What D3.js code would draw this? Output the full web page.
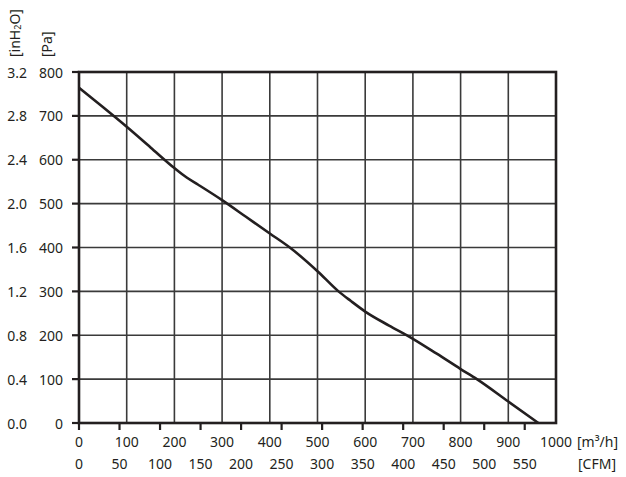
<!DOCTYPE html>
<html>
<head>
<meta charset="utf-8">
<script src="https://cdn.jsdelivr.net/npm/d3@7"></script>
<style>
  html, body { margin: 0; padding: 0; background: #fff; }
  text { font-family: "Noto Sans", "Open Sans", sans-serif; fill: #231f20; }
</style>
</head>
<body>
<svg id="chart" width="626" height="477"></svg>
<script>
// ---- Data ----
const flowM3h = [0, 50, 100, 150, 200, 225, 250, 300, 350, 400, 442, 500, 544, 570, 600, 650, 700, 750, 800, 834, 900, 963];
const pressurePa = [764, 720, 675, 628, 581, 560, 543, 508, 470, 432, 400, 346, 300, 278, 254, 222, 192, 158, 123, 100, 49, 0];

const m3hTicks = [0, 100, 200, 300, 400, 500, 600, 700, 800, 900, 1000];
const cfmTicks = [0, 50, 100, 150, 200, 250, 300, 350, 400, 450, 500, 550];
const paTicks = [0, 100, 200, 300, 400, 500, 600, 700, 800];
const inH2OLabels = ["0.0", "0.4", "0.8", "1.2", "1.6", "2.0", "2.4", "2.8", "3.2"];
const CFM_TO_M3H = 1.699;

// ---- Layout ----
const svg = d3.select("#chart");
const pL = 79, pR = 556, pT = 72, pB = 423;

const x = d3.scaleLinear().domain([0, 1000]).range([pL, pR]);
const y = d3.scaleLinear().domain([0, 800]).range([pB, pT]);

const ink = "#231f20";

// Grid
svg.append("g").selectAll("line").data(m3hTicks.slice(1, -1)).join("line")
  .attr("x1", d => x(d)).attr("x2", d => x(d))
  .attr("y1", pT).attr("y2", pB)
  .attr("stroke", "#3a3a3a").attr("stroke-width", 1.6);
svg.append("g").selectAll("line").data(paTicks.slice(1, -1)).join("line")
  .attr("x1", pL).attr("x2", pR)
  .attr("y1", d => y(d)).attr("y2", d => y(d))
  .attr("stroke", "#3a3a3a").attr("stroke-width", 1.6);

// Left ticks (Pa)
svg.append("g").selectAll("line").data(paTicks).join("line")
  .attr("x1", pL - 7).attr("x2", pL)
  .attr("y1", d => y(d)).attr("y2", d => y(d))
  .attr("stroke", ink).attr("stroke-width", 2.2);

// Bottom ticks (CFM positions)
svg.append("g").selectAll("line").data(cfmTicks).join("line")
  .attr("x1", d => x(d * CFM_TO_M3H)).attr("x2", d => x(d * CFM_TO_M3H))
  .attr("y1", pB).attr("y2", pB + 7)
  .attr("stroke", ink).attr("stroke-width", 2.2);

// Frame
svg.append("rect")
  .attr("x", pL).attr("y", pT)
  .attr("width", pR - pL).attr("height", pB - pT)
  .attr("fill", "none").attr("stroke", ink).attr("stroke-width", 2.6);

// Curve
const line = d3.line()
  .x((d, i) => x(flowM3h[i]))
  .y(d => y(d))
  .curve(d3.curveMonotoneX);
svg.append("path")
  .datum(pressurePa)
  .attr("d", line)
  .attr("fill", "none")
  .attr("stroke", ink)
  .attr("stroke-width", 2.6)
  .attr("stroke-linejoin", "round");

// Y labels Pa
const fs = 14;
svg.append("g").selectAll("text").data(paTicks).join("text")
  .attr("x", 63).attr("y", d => y(d))
  .attr("text-anchor", "end").attr("dominant-baseline", "central")
  .attr("font-size", fs)
  .text(d => d);

// Y labels inH2O
svg.append("g").selectAll("text").data(paTicks).join("text")
  .attr("x", 27).attr("y", d => y(d))
  .attr("text-anchor", "end").attr("dominant-baseline", "central")
  .attr("font-size", fs)
  .text((d, i) => inH2OLabels[i]);

// Rotated unit labels
const t1 = svg.append("text")
  .attr("transform", "translate(14,57) rotate(-90)")
  .attr("text-anchor", "start").attr("dominant-baseline", "central")
  .attr("font-size", fs);
t1.append("tspan").text("[inH");
t1.append("tspan").attr("font-size", 9).attr("dy", 3).text("2");
t1.append("tspan").attr("dy", -3).text("O]");

svg.append("text")
  .attr("transform", "translate(46,57) rotate(-90)")
  .attr("text-anchor", "start").attr("dominant-baseline", "central")
  .attr("font-size", fs)
  .text("[Pa]");

// X labels m3/h
svg.append("g").selectAll("text").data(m3hTicks).join("text")
  .attr("x", d => x(d)).attr("y", 441)
  .attr("text-anchor", "middle").attr("dominant-baseline", "central")
  .attr("font-size", fs)
  .text(d => d);
svg.append("text")
  .attr("x", 577).attr("y", 441)
  .attr("dominant-baseline", "central").attr("font-size", fs)
  .text("[m³/h]");

// X labels CFM
svg.append("g").selectAll("text").data(cfmTicks).join("text")
  .attr("x", d => x(d * CFM_TO_M3H)).attr("y", 463)
  .attr("text-anchor", "middle").attr("dominant-baseline", "central")
  .attr("font-size", fs)
  .text(d => d);
svg.append("text")
  .attr("x", 578).attr("y", 463)
  .attr("dominant-baseline", "central").attr("font-size", fs)
  .text("[CFM]");
</script>
</body>
</html>
